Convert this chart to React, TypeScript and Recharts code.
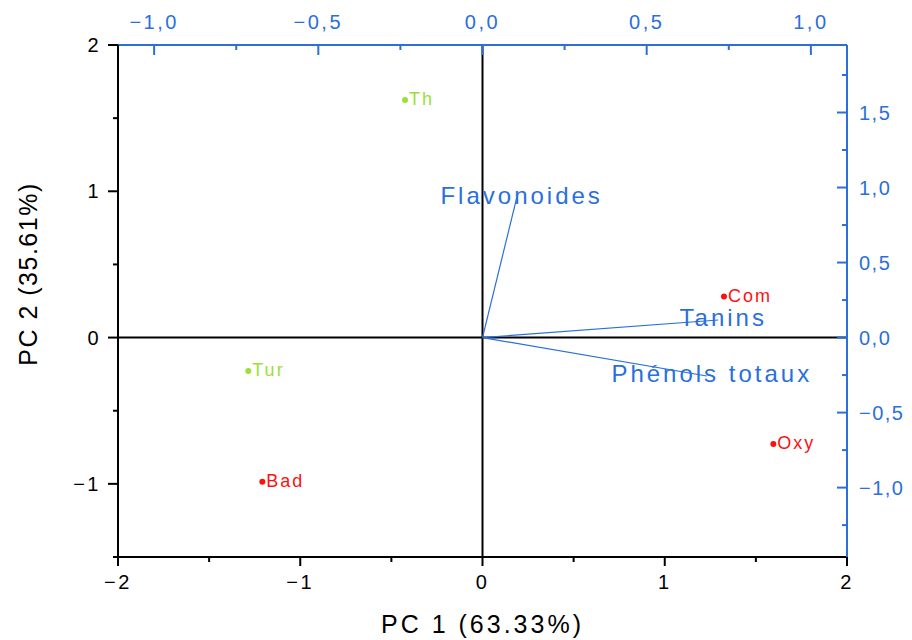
import React from 'react';
import { ScatterChart, Scatter, XAxis, YAxis, ReferenceLine } from 'recharts';

// ---- data ----
const sampleNames = ['Th', 'Tur', 'Bad', 'Com', 'Oxy'];
const pc1Scores = [-0.425, -1.285, -1.208, 1.325, 1.596];
const pc2Scores = [1.624, -0.228, -0.985, 0.28, -0.727];
const sampleGroups = ['A', 'A', 'B', 'B', 'B'];

const variableNames = ['Flavonoides', 'Tanins', 'Phénols totaux'];
const loadingPC1 = [0.104, 0.718, 0.683];
const loadingPC2 = [0.929, 0.117, -0.256];

const bottomTicks = [-2, -1.5, -1, -0.5, 0, 0.5, 1, 1.5, 2];
const leftTicks = [-1.5, -1, -0.5, 0, 0.5, 1, 1.5, 2];
const topTicks = [-1, -0.75, -0.5, -0.25, 0, 0.25, 0.5, 0.75, 1];
const rightTicks = [-1.25, -1, -0.75, -0.5, -0.25, 0, 0.25, 0.5, 0.75, 1, 1.25, 1.5, 1.75];

const bottomDomain: [number, number] = [-2, 2];
const leftDomain: [number, number] = [-1.5, 2];
const topDomain: [number, number] = [-1.11, 1.11];
const rightDomain: [number, number] = [-1.4625, 1.95];

const xTitle = 'PC 1 (63.33%)';
const yTitle = 'PC 2 (35.61%)';

// ---- styles / layout ----
const W = 912;
const H = 640;
const P = { left: 110, right: 839, top: 37, bottom: 549 };
const BLUE = '#2a6fdc';
const GREEN = '#9be03a';
const RED = '#ff1010';
const FONT = '"Liberation Sans", Arial, sans-serif';
const groupColor: Record<string, string> = { A: GREEN, B: RED };

const scoreData = sampleNames.map((name, i) => ({
  name,
  x: pc1Scores[i],
  y: pc2Scores[i],
  color: groupColor[sampleGroups[i]],
}));

const loadingData = variableNames.map((name, i) => ({
  name,
  x: loadingPC1[i],
  y: loadingPC2[i],
}));

const minus = (v: number) => (v < 0 ? '\u2212' : '');
const fmtInt = (v: number) => minus(v) + String(Math.abs(v));
const fmtComma = (v: number) => minus(v) + Math.abs(v).toFixed(1).replace('.', ',');
const isHalf = (v: number) => Math.abs(v * 2 - Math.round(v * 2)) < 1e-9;

const BottomTick = (props: any) => {
  const { x, payload } = props;
  const cx = payload?.coordinate ?? x;
  const v = payload.value;
  const major = Number.isInteger(v);
  return (
    <g>
      <line x1={cx} x2={cx} y1={P.bottom} y2={P.bottom + (major ? 9 : 5)} stroke="#000" strokeWidth={2} />
      {major && (
        <text x={cx} y={P.bottom + 32} textAnchor="middle" fontSize={20} fontFamily={FONT} fill="#000" style={{ letterSpacing: 2.5 }}>
          {fmtInt(v)}
        </text>
      )}
    </g>
  );
};

const LeftTick = (props: any) => {
  const { y, payload } = props;
  const cy = payload?.coordinate ?? y;
  const v = payload.value;
  const major = Number.isInteger(v);
  return (
    <g>
      <line x1={P.left} x2={P.left - (major ? 10 : 5)} y1={cy} y2={cy} stroke="#000" strokeWidth={2} />
      {major && (
        <text x={P.left - 17} y={cy} dy={7} textAnchor="end" fontSize={20} fontFamily={FONT} fill="#000" style={{ letterSpacing: 2.5 }}>
          {fmtInt(v)}
        </text>
      )}
    </g>
  );
};

const TopTick = (props: any) => {
  const { x, payload } = props;
  const cx = payload?.coordinate ?? x;
  const v = payload.value;
  const major = isHalf(v);
  return (
    <g>
      <line x1={cx} x2={cx} y1={P.top} y2={P.top + (major ? 10 : 5)} stroke={BLUE} strokeWidth={2} />
      {major && (
        <text x={cx} y={P.top - 16} textAnchor="middle" fontSize={20} fontFamily={FONT} fill={BLUE} style={{ letterSpacing: 2.5 }}>
          {fmtComma(v)}
        </text>
      )}
    </g>
  );
};

const RightTick = (props: any) => {
  const { y, payload } = props;
  const cy = payload?.coordinate ?? y;
  const v = payload.value;
  const major = isHalf(v);
  return (
    <g>
      <line x1={P.right} x2={P.right - (major ? 10 : 5)} y1={cy} y2={cy} stroke={BLUE} strokeWidth={2} />
      {major && (
        <text x={P.right + 12} y={cy} dy={7} textAnchor="start" fontSize={20} fontFamily={FONT} fill={BLUE} style={{ letterSpacing: 1.5 }}>
          {fmtComma(v)}
        </text>
      )}
    </g>
  );
};

const ScoreShape = (props: any) => {
  const { cx, cy, payload } = props;
  if (cx == null || cy == null) return <g />;
  return (
    <g>
      <circle cx={cx} cy={cy} r={3} fill={payload.color} />
      <text x={cx + 4} y={cy} dy={5} fontSize={18} fontFamily={FONT} fill={payload.color} style={{ letterSpacing: 2 }}>
        {payload.name}
      </text>
    </g>
  );
};

const LoadingLabel = (props: any) => {
  const { cx, cy, payload } = props;
  if (cx == null || cy == null) return <g />;
  return (
    <text x={cx + 5} y={cy} dy={6} textAnchor="middle" fontSize={24} fontFamily={FONT} fill={BLUE} style={{ letterSpacing: 3 }}>
      {payload.name}
    </text>
  );
};

export default function App() {
  return (
    <div style={{ width: W, height: H, background: '#fff' }}>
      <ScatterChart width={W} height={H} margin={{ top: 0, right: 0, bottom: 0, left: 0 }}>
        <XAxis
          xAxisId="bottom"
          type="number"
          dataKey="x"
          orientation="bottom"
          domain={bottomDomain}
          ticks={bottomTicks}
          interval={0}
          height={H - P.bottom}
          allowDataOverflow
          axisLine={{ stroke: '#000', strokeWidth: 2 }}
          tickLine={false}
          tick={(p: any) => <BottomTick {...p} />}
        />
        <XAxis
          xAxisId="top"
          type="number"
          dataKey="x"
          orientation="top"
          domain={topDomain}
          ticks={topTicks}
          interval={0}
          height={P.top}
          allowDataOverflow
          axisLine={{ stroke: BLUE, strokeWidth: 2 }}
          tickLine={false}
          tick={(p: any) => <TopTick {...p} />}
        />
        <YAxis
          yAxisId="left"
          type="number"
          dataKey="y"
          orientation="left"
          domain={leftDomain}
          ticks={leftTicks}
          interval={0}
          width={P.left}
          allowDataOverflow
          axisLine={{ stroke: '#000', strokeWidth: 2 }}
          tickLine={false}
          tick={(p: any) => <LeftTick {...p} />}
        />
        <YAxis
          yAxisId="right"
          type="number"
          dataKey="y"
          orientation="right"
          domain={rightDomain}
          ticks={rightTicks}
          interval={0}
          width={W - P.right}
          allowDataOverflow
          axisLine={{ stroke: BLUE, strokeWidth: 2 }}
          tickLine={false}
          tick={(p: any) => <RightTick {...p} />}
        />
        <ReferenceLine xAxisId="bottom" yAxisId="left" x={0} stroke="#000" strokeWidth={2} />
        <ReferenceLine xAxisId="bottom" yAxisId="left" y={0} stroke="#000" strokeWidth={2} />
        {loadingData.map((d) => (
          <ReferenceLine
            key={d.name}
            xAxisId="top"
            yAxisId="right"
            segment={[{ x: 0, y: 0 }, { x: d.x, y: d.y }]}
            stroke={BLUE}
            strokeWidth={1.2}
          />
        ))}
        <Scatter
          name="loadings"
          xAxisId="top"
          yAxisId="right"
          data={loadingData}
          shape={(p: any) => <LoadingLabel {...p} />}
          isAnimationActive={false}
        />
        <Scatter
          name="scores"
          xAxisId="bottom"
          yAxisId="left"
          data={scoreData}
          shape={(p: any) => <ScoreShape {...p} />}
          isAnimationActive={false}
        />
        <text x={(P.left + P.right) / 2} y={625} textAnchor="middle" fontSize={25} fontFamily={FONT} fill="#000" style={{ letterSpacing: 3 }}>
          {xTitle}
        </text>
        <text
          x={20}
          y={266}
          transform="rotate(-90 20 266)"
          textAnchor="middle"
          dominantBaseline="central"
          fontSize={25}
          fontFamily={FONT}
          fill="#000"
          style={{ letterSpacing: 1.5 }}
        >
          {yTitle}
        </text>
      </ScatterChart>
    </div>
  );
}
